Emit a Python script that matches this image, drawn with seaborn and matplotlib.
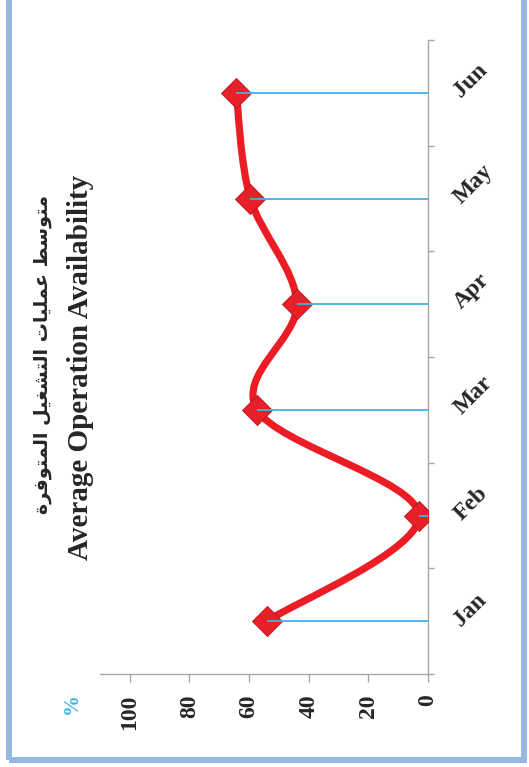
import matplotlib
matplotlib.use("Agg")
import matplotlib.pyplot as plt
import seaborn as sns
import numpy as np
from matplotlib.path import Path
from matplotlib.patches import PathPatch, Rectangle

months = ["Jan", "Feb", "Mar", "Apr", "May", "Jun"]
availability = [54.0, 3.0, 57.3, 44.0, 59.6, 64.3]
value_ticks = [0, 20, 40, 60, 80, 100]
title_en = "Average Operation Availability"
title_ar = "متوسط عمليات التشغيل المتوفرة"
unit_label = "%"

# arabic presentation forms: (isolated, final, initial, medial), None = no join to the next letter
FORMS = {
    'ا': (0xFE8D, 0xFE8E, None, None),
    'ة': (0xFE93, 0xFE94, None, None),
    'ت': (0xFE95, 0xFE96, 0xFE97, 0xFE98),
    'ر': (0xFEAD, 0xFEAE, None, None),
    'س': (0xFEB1, 0xFEB2, 0xFEB3, 0xFEB4),
    'ش': (0xFEB5, 0xFEB6, 0xFEB7, 0xFEB8),
    'ط': (0xFEC1, 0xFEC2, 0xFEC3, 0xFEC4),
    'ع': (0xFEC9, 0xFECA, 0xFECB, 0xFECC),
    'غ': (0xFECD, 0xFECE, 0xFECF, 0xFED0),
    'ف': (0xFED1, 0xFED2, 0xFED3, 0xFED4),
    'ل': (0xFEDD, 0xFEDE, 0xFEDF, 0xFEE0),
    'م': (0xFEE1, 0xFEE2, 0xFEE3, 0xFEE4),
    'و': (0xFEED, 0xFEEE, None, None),
    'ي': (0xFEF1, 0xFEF2, 0xFEF3, 0xFEF4),
}


def shape_arabic(text):
    out = []
    for i, ch in enumerate(text):
        if ch not in FORMS:
            out.append(ch)
            continue
        prev = text[i - 1] if i > 0 else ''
        nxt = text[i + 1] if i + 1 < len(text) else ''
        iso, fin, ini, med = FORMS[ch]
        joins_prev = prev in FORMS and FORMS[prev][2] is not None
        joins_next = nxt in FORMS and ini is not None
        if joins_prev and joins_next:
            out.append(chr(med))
        elif joins_prev:
            out.append(chr(fin))
        elif joins_next:
            out.append(chr(ini))
        else:
            out.append(chr(iso))
    return ''.join(out)[::-1]


def smooth_path(xs, ys):
    # excel-like smoothed line: catmull-rom segments as cubic beziers
    pts = np.column_stack([xs, ys]).astype(float)
    n = len(pts)
    verts = [pts[0]]
    codes = [Path.MOVETO]
    for i in range(n - 1):
        p0 = pts[max(i - 1, 0)]
        p1 = pts[i]
        p2 = pts[i + 1]
        p3 = pts[min(i + 2, n - 1)]
        verts += [p1 + (p2 - p0) / 6, p2 - (p3 - p1) / 6, p2]
        codes += [Path.CURVE4] * 3
    return Path(verts, codes)


def main():
    sns.set_style("white")
    plt.rcParams['font.family'] = ['Liberation Serif', 'DejaVu Sans']

    red = '#EC1C24'
    blue = '#3DB4E6'
    grey = '#A6A6A6'

    fig = plt.figure(figsize=(5.29, 7.67), dpi=100)
    ax = fig.add_axes([100 / 529, 93 / 767, 328 / 529, 634 / 767])

    pos = np.arange(len(months))

    ax.add_patch(PathPatch(smooth_path(availability, pos), fill=False, edgecolor=red,
                           lw=5.2, capstyle='round', joinstyle='round', zorder=3))
    sns.scatterplot(x=availability, y=pos, marker='D', s=235, color='#E8202A',
                    edgecolor='#B5141B', linewidth=0.6, zorder=4, ax=ax)
    ax.hlines(pos, 0, availability, color=blue, lw=1.3, zorder=5)

    ax.set_xlim(110, 0)
    ax.set_ylim(-0.5, len(months) - 0.5)

    ax.set_xticks(value_ticks)
    ax.set_xticklabels([str(v) for v in value_ticks], rotation=90, fontsize=17,
                       fontweight='bold', va='top')
    ax.tick_params(axis='x', direction='out', length=5.5, width=1, color=grey, pad=9, bottom=True)

    ax.yaxis.tick_right()
    ax.set_yticks(pos)
    ax.set_yticks(np.arange(len(months) + 1) - 0.5, minor=True)
    ax.set_yticklabels(months, rotation=45, rotation_mode='anchor', ha='left',
                       va='center_baseline', fontsize=17, fontweight='bold')
    ax.tick_params(axis='y', which='major', length=0, pad=20, right=True)
    ax.tick_params(axis='y', which='minor', direction='out', length=4.5, width=1,
                   color=grey, right=True, left=False)

    for side in ['left', 'top']:
        ax.spines[side].set_visible(False)
    for side in ['bottom', 'right']:
        ax.spines[side].set_color(grey)
        ax.spines[side].set_linewidth(1)
    ax.grid(False)

    fig.text(81 / 529, 1 - 367 / 767, title_en, rotation=90, ha='center', va='center',
             fontsize=21, fontweight='bold')
    fig.text(43 / 529, 1 - 355 / 767, shape_arabic(title_ar), rotation=90, ha='center',
             va='center', fontsize=13.8, fontweight='bold', family=['DejaVu Sans'])
    fig.text(72 / 529, 1 - 704 / 767, unit_label, rotation=90, ha='center', va='center',
             fontsize=15, fontweight='bold', color=blue)

    fig.add_artist(Rectangle((9 / 529, 7 / 767), 515 / 529, 764 / 767, fill=False,
                             edgecolor='#95B8E2', lw=4.3, transform=fig.transFigure))

    fig.savefig('out.png', dpi=100)


if __name__ == '__main__':
    main()
